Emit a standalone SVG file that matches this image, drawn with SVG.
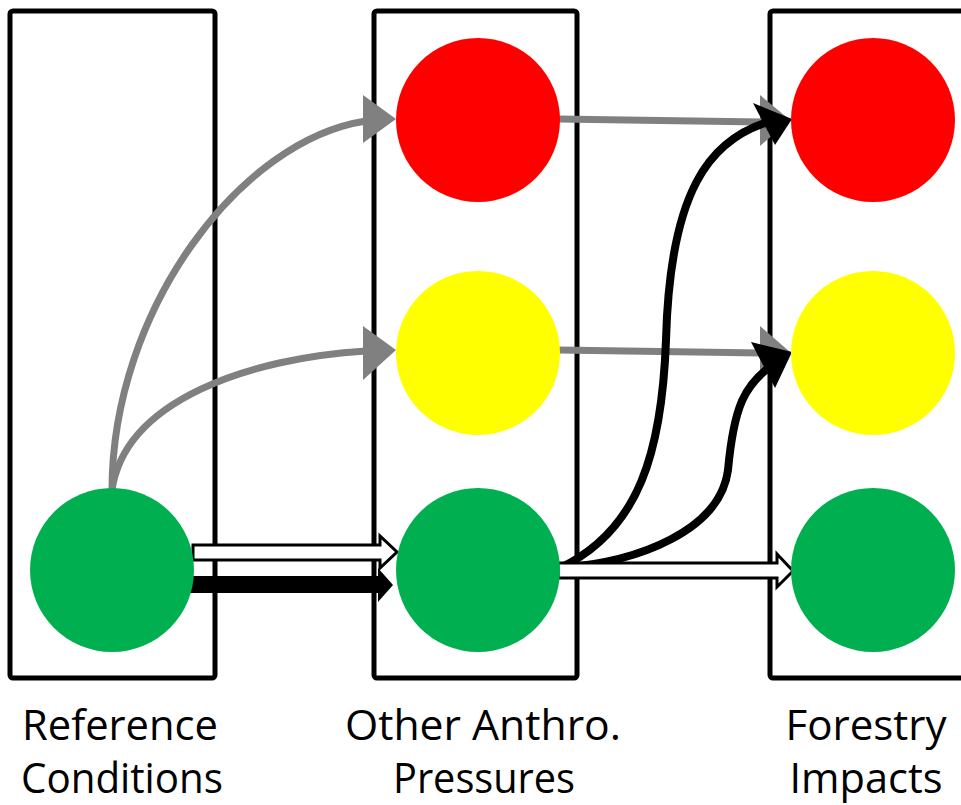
<svg xmlns="http://www.w3.org/2000/svg" width="961" height="805" viewBox="0 0 961 805">
  <style>
    .col { fill: none; stroke: #000; stroke-width: 5; }
    .red { fill: #ff0000; }
    .yel { fill: #ffff00; }
    .grn { fill: #00b050; }
    .gray { fill: none; stroke: #808080; stroke-width: 7; }
    .black { fill: none; stroke: #000; stroke-width: 8; }
    .ghead { fill: #808080; }
    .bhead { fill: #000; }
    .block-w { fill: #fff; stroke: #000; stroke-width: 3; stroke-linejoin: miter; }
    .block-b { fill: #000; }
    .lbl { font-family: "Open Sans", "Liberation Sans", sans-serif; font-size: 42px; fill: #000; text-anchor: middle; }
  </style>

  <!-- column frames -->
  <g id="columns">
    <rect class="col" x="10" y="11" width="205" height="667" rx="3"/>
    <rect class="col" x="374" y="11" width="203" height="667" rx="3"/>
    <rect class="col" x="770" y="11" width="220" height="667" rx="3"/>
  </g>

  <g id="connectors">
    <!-- reference -> other pressures (gray) -->
    <path class="gray" d="M112,490 C112,310 240,140 366,121"/>
    <polygon class="ghead" points="396,119 363,95 363,143"/>
    <path class="gray" d="M112,490 C125,400 250,358 366,351"/>
    <polygon class="ghead" points="396,350 363,326 363,380"/>
    <!-- other pressures -> forestry (gray) -->
    <path class="gray" d="M558,119 L762,122"/>
    <polygon class="ghead" points="790,120 760,95 760,146"/>
    <path class="gray" d="M558,350 L762,353"/>
    <polygon class="ghead" points="790,352 760,326 760,378"/>
    <!-- forestry curves (black) -->
    <path class="black" d="M560,568 C640,530 662,450 666,340 C670,190 710,140 768,122"/>
    <polygon class="bhead" points="792,119 753,103 775,145"/>
    <path class="black" d="M560,568 C640,562 720,530 728,470 C734,405 745,385 772,365"/>
    <polygon class="bhead" points="792,352 751,342 775,388"/>
    <!-- block arrows -->
    <polygon class="block-w" points="193,545 380,545 380,536 397,552 380,568 380,560 193,560"/>
    <polygon class="block-b" points="188,576 378,576 378,568 393,585 378,602 378,593 188,593"/>
    <polygon class="block-w" points="558,563 777,563 777,554 793,571 777,587 777,578 558,578"/>
  </g>

  <g id="node-ref-green"><circle class="grn" cx="112" cy="570" r="82"/></g>
  <g id="node-oth-red"><circle class="red" cx="478" cy="120" r="82"/></g>
  <g id="node-oth-yellow"><circle class="yel" cx="478" cy="353" r="82"/></g>
  <g id="node-oth-green"><circle class="grn" cx="478" cy="570" r="82"/></g>
  <g id="node-for-red"><circle class="red" cx="873" cy="120" r="82"/></g>
  <g id="node-for-yellow"><circle class="yel" cx="873" cy="353" r="82"/></g>
  <g id="node-for-green"><circle class="grn" cx="873" cy="570" r="82"/></g>

  <g id="labels">
    <text class="lbl" x="120" y="740" textLength="196" lengthAdjust="spacingAndGlyphs">Reference</text>
    <text class="lbl" x="122" y="793" textLength="202" lengthAdjust="spacingAndGlyphs">Conditions</text>
    <text class="lbl" x="483" y="740" textLength="276" lengthAdjust="spacingAndGlyphs">Other Anthro.</text>
    <text class="lbl" x="484" y="793" textLength="182" lengthAdjust="spacingAndGlyphs">Pressures</text>
    <text class="lbl" x="866" y="740" textLength="161" lengthAdjust="spacingAndGlyphs">Forestry</text>
    <text class="lbl" x="866" y="793" textLength="153" lengthAdjust="spacingAndGlyphs">Impacts</text>
  </g>
</svg>
